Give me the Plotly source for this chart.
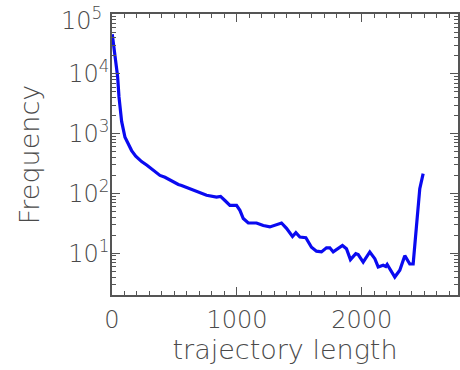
import plotly.graph_objects as go

trajectory_length = [2, 24, 45, 56, 77, 104, 130, 157, 190, 237, 280, 317, 384, 424, 464, 531, 557, 624, 704, 757,
                     837, 869, 904, 944, 997, 1024, 1051, 1091, 1157, 1211, 1264, 1317, 1357, 1397, 1445, 1472,
                     1504, 1552, 1597, 1637, 1677, 1717, 1744, 1771, 1803, 1845, 1877, 1909, 1952, 1971, 2011,
                     2064, 2104, 2131, 2171, 2192, 2203, 2224, 2264, 2304, 2344, 2384, 2411, 2437, 2464, 2491]
frequency = [46000, 21000, 9000, 4100, 1600, 870, 680, 520, 420, 340, 295, 260, 200, 186, 166, 141, 136, 120, 100, 93,
             87, 89, 76, 63, 63, 52, 38, 32, 32, 29, 27.5, 30, 32, 26, 19, 22,
             18.6, 18.2, 12.6, 10.8, 10.5, 12.3, 12.3, 10.5, 11.9, 13.5, 11.9, 7.8, 9.8, 9.5, 7.1,
             10.5, 8.1, 5.9, 6.3, 6.0, 6.5, 5.5, 4.0, 5.2, 9.1, 6.6, 6.6, 27.5, 120, 214]

y_tick_vals = [10, 100, 1000, 10000, 100000]
y_tick_text = ["10<sup>1</sup>", "10<sup>2</sup>", "10<sup>3</sup>", "10<sup>4</sup>", ""]
y_top_label = "10<sup>5</sup>"
y_minor_vals = [m * 10 ** k for k in range(0, 5) for m in range(2, 10)]

grey = "#4a4a4a"
axis_grey = "#555555"
tick_font = dict(family="DejaVu Sans", size=24, color=grey, weight=300)
title_font = dict(family="DejaVu Sans", size=27, color=grey, weight=300)

fig = go.Figure()
fig.add_trace(go.Scatter(x=trajectory_length, y=frequency, mode="lines",
                         line=dict(color="rgb(10,10,240)", width=3.2)))

fig.add_annotation(text=y_top_label, xref="paper", yref="paper", x=0, y=1,
                   xanchor="right", yanchor="middle", xshift=-8, yshift=-5,
                   showarrow=False, font=tick_font)

fig.update_layout(
    width=460, height=370,
    margin=dict(l=112, r=2, t=14, b=75),
    paper_bgcolor="white", plot_bgcolor="white",
    showlegend=False,
    font=tick_font,
    xaxis=dict(range=[0, 2770], tickvals=[0, 1000, 2000], ticks="inside", ticklen=8,
               tickcolor=axis_grey, tickwidth=1.2, ticklabelstandoff=2, ticklabeloverflow="allow",
               minor=dict(dtick=100, tick0=0, ticks="inside", ticklen=4, tickcolor=axis_grey, tickwidth=1),
               showline=True, linecolor=axis_grey, linewidth=1.5, mirror="ticks",
               showgrid=False, zeroline=False, automargin=False,
               title=dict(text="trajectory length", font=title_font, standoff=8),
               tickfont=tick_font),
    yaxis=dict(type="log", range=[0.301, 5.0], tickvals=y_tick_vals, ticktext=y_tick_text,
               ticks="inside", ticklen=8, tickcolor=axis_grey, tickwidth=1.2, ticklabelstandoff=-4,
               ticklabeloverflow="allow",
               minor=dict(tickmode="array", tickvals=y_minor_vals, ticks="inside", ticklen=4,
                          tickcolor=axis_grey, tickwidth=1),
               showline=True, linecolor=axis_grey, linewidth=1.5, mirror="ticks",
               showgrid=False, zeroline=False, automargin=False,
               title=dict(text="Frequency", font=title_font, standoff=21),
               tickfont=tick_font),
)

fig.write_html("out.html", config={"displayModeBar": False},
               post_script="document.body.style.margin='0';")
